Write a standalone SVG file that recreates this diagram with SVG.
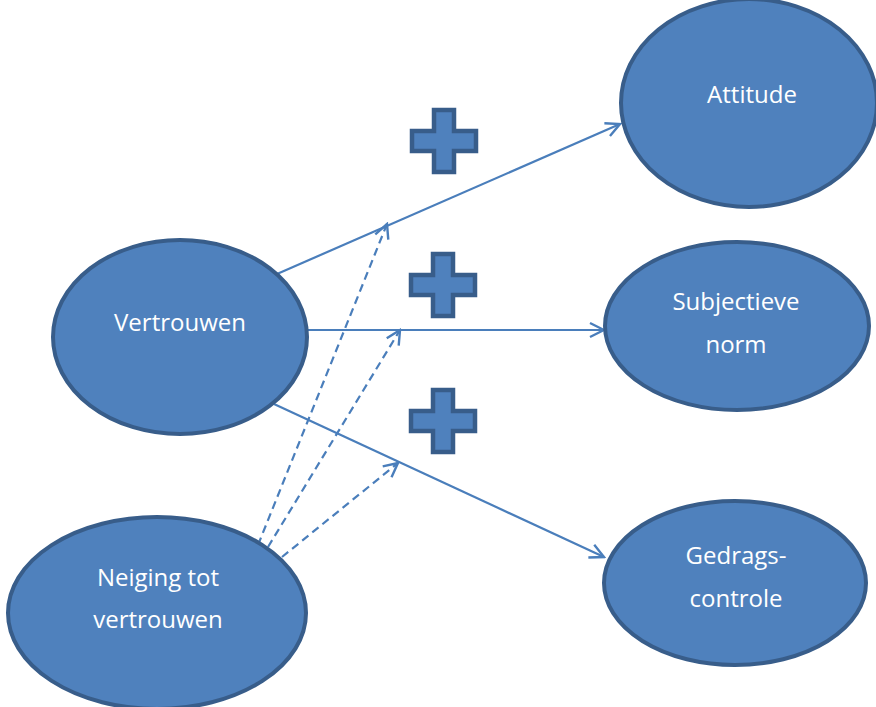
<svg xmlns="http://www.w3.org/2000/svg" width="876" height="707" viewBox="0 0 876 707">
  <style>
    .node ellipse { fill: #4F81BD; stroke: #385D8A; stroke-width: 4; }
    .node text { fill: #FFFFFF; font-family: "Open Sans", "Liberation Sans", sans-serif; font-size: 24px; text-anchor: middle; }
    .plus { fill: #4F81BD; stroke: #385D8A; stroke-width: 4.5; stroke-linejoin: miter; }
    .edge { stroke: #4A7EBB; stroke-width: 2.2; fill: none; marker-end: url(#vhead); }
    .dashed { stroke-dasharray: 8 5; }
  </style>
  <defs>
    <marker id="vhead" viewBox="0 0 20 20" refX="18" refY="10" markerWidth="20" markerHeight="20" markerUnits="userSpaceOnUse" orient="auto">
      <path d="M4,3 L18,10 L4,17" fill="none" stroke="#4A7EBB" stroke-width="2.4"/>
    </marker>
    <path id="plusShape" d="M-10,-31 H10 V-10 H32 V10 H10 V31 H-10 V10 H-32 V-10 H-10 Z"/>
  </defs>
  <rect width="876" height="707" fill="#FFFFFF"/>

  <g id="connectors">
    <line class="edge" x1="277" y1="274" x2="620" y2="124"/>
    <line class="edge" x1="308" y1="330" x2="604" y2="330"/>
    <line class="edge" x1="274" y1="404" x2="604" y2="557"/>
    <line class="edge dashed" x1="258" y1="545" x2="387" y2="224"/>
    <line class="edge dashed" x1="268" y1="547" x2="400" y2="330"/>
    <line class="edge dashed" x1="282" y1="557" x2="398" y2="463"/>
  </g>

  <g id="plus-signs">
    <use href="#plusShape" class="plus" x="444" y="141"/>
    <use href="#plusShape" class="plus" x="443" y="285"/>
    <use href="#plusShape" class="plus" x="443" y="421"/>
  </g>

  <g id="attitude" class="node">
    <ellipse cx="749" cy="103" rx="128" ry="104"/>
    <text x="752" y="103">Attitude</text>
  </g>
  <g id="subjectieve-norm" class="node">
    <ellipse cx="737" cy="326" rx="132" ry="84"/>
    <text x="736" y="310">Subjectieve</text>
    <text x="736" y="353">norm</text>
  </g>
  <g id="gedragscontrole" class="node">
    <ellipse cx="735" cy="583" rx="131" ry="82"/>
    <text x="736" y="564">Gedrags-</text>
    <text x="736" y="607">controle</text>
  </g>
  <g id="vertrouwen" class="node">
    <ellipse cx="180" cy="337" rx="127" ry="97"/>
    <text x="180" y="331">Vertrouwen</text>
  </g>
  <g id="neiging-tot-vertrouwen" class="node">
    <ellipse cx="157" cy="613" rx="149" ry="96"/>
    <text x="158" y="586">Neiging tot</text>
    <text x="158" y="628">vertrouwen</text>
  </g>
</svg>
